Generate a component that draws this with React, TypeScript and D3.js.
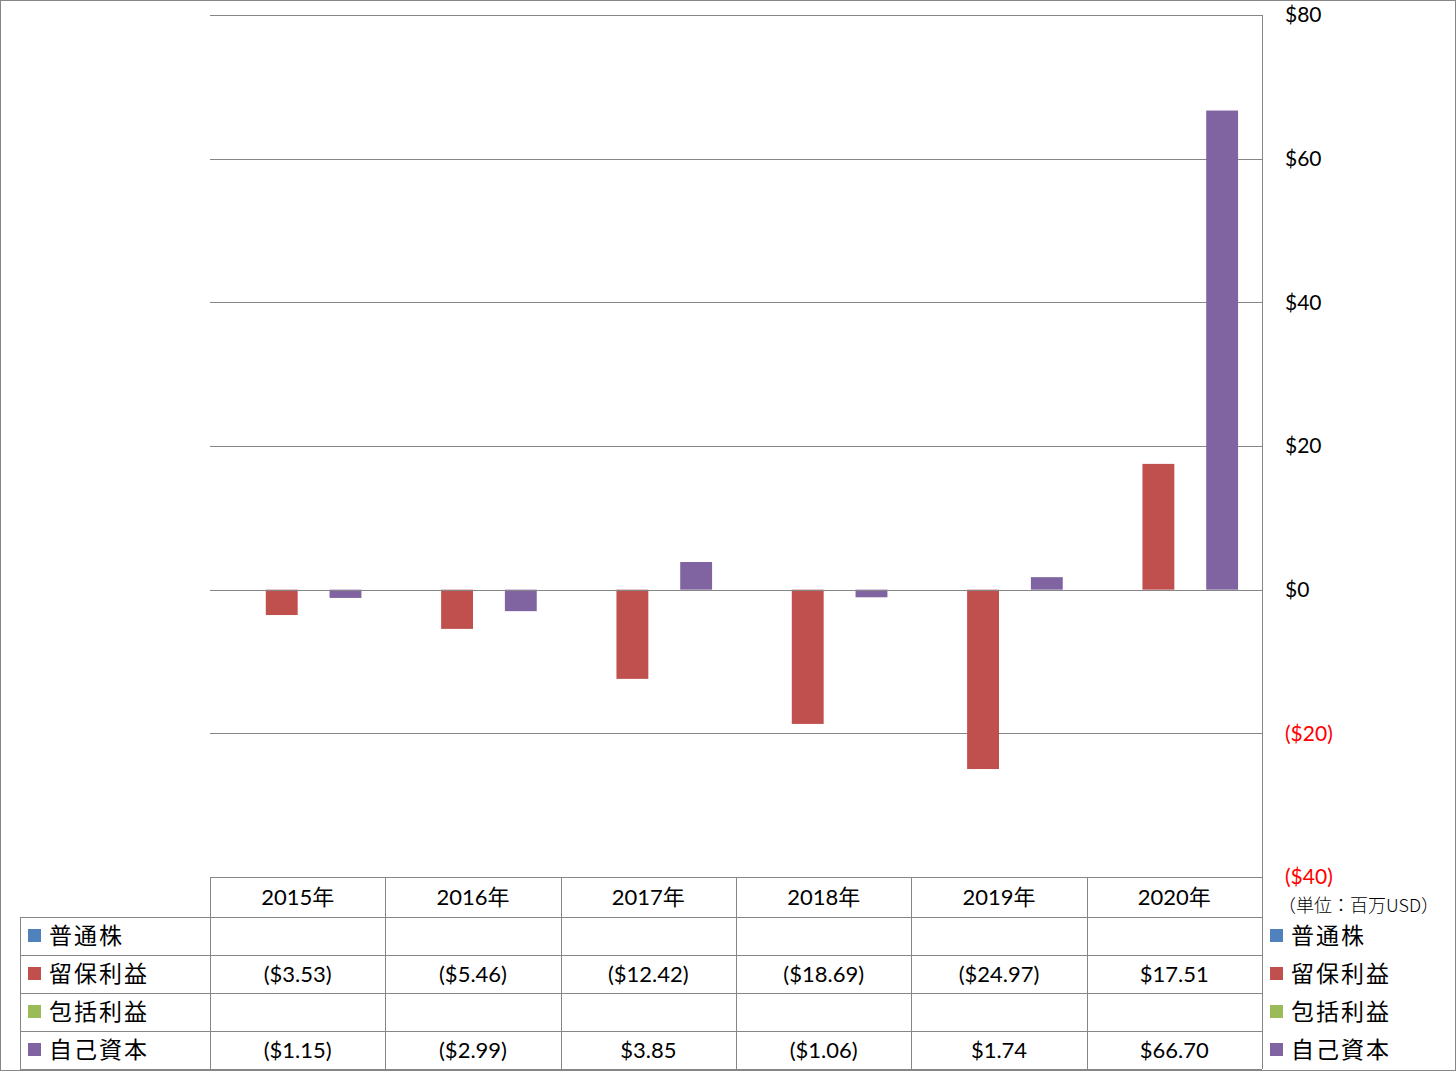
import React from "react";
import * as d3 from "d3";

const categories = ["2015年", "2016年", "2017年", "2018年", "2019年", "2020年"];
const seriesNames = ["普通株", "留保利益", "包括利益", "自己資本"];
const seriesColors = ["#4F81BD", "#C0504D", "#9BBB59", "#8064A2"];
const commonStock: (number | null)[] = [null, null, null, null, null, null];
const retainedEarnings: (number | null)[] = [-3.53, -5.46, -12.42, -18.69, -24.97, 17.51];
const comprehensiveIncome: (number | null)[] = [null, null, null, null, null, null];
const equity: (number | null)[] = [-1.15, -2.99, 3.85, -1.06, 1.74, 66.7];
const yTicks = [-40, -20, 0, 20, 40, 60, 80];
const unitLabel = "（単位：百万USD）";

const seriesValues = [commonStock, retainedEarnings, comprehensiveIncome, equity];

const W = 1456;
const H = 1071;
const plotLeft = 210;
const plotRight = 1262;
const plotTop = 15;
const plotBottom = 877;
const tableLeft = 20;
const rowH = 38;
const headerBottom = 917;
const gridColor = "#868686";
const numFont = "Lato, 'Noto Sans CJK JP', sans-serif";
const jpFont = "'Noto Sans CJK JP', sans-serif";

const fmt = (v: number) => {
  const s = "$" + Math.abs(v).toFixed(2);
  return v < 0 ? "(" + s + ")" : s;
};
const fmtTick = (v: number) => (v < 0 ? "($" + Math.abs(v) + ")" : "$" + v);

export default function App() {
  const y = d3.scaleLinear().domain([-40, 80]).range([plotBottom, plotTop]);
  const x0 = d3.scaleBand<string>().domain(categories).range([plotLeft, plotRight]).paddingInner(0).paddingOuter(0);
  const bw = x0.bandwidth();
  const gap = (bw / 5.5) * 0.75;
  const x1 = d3.scaleBand<string>().domain(seriesNames).range([gap, bw - gap]).padding(0);

  const rowTops = seriesNames.map((_, i) => headerBottom + i * rowH);
  const tableBottom = headerBottom + seriesNames.length * rowH;

  return (
    <div style={{ position: "absolute", left: 0, top: 0 }}>
      <svg width={W} height={H} style={{ display: "block", background: "#fff" }}>
        <rect x={0.5} y={0.5} width={W - 1} height={H - 1} fill="#fff" stroke={gridColor} strokeWidth={1} />
        {/* gridlines */}
        {yTicks.map((t) => (
          <line key={"g" + t} x1={plotLeft} x2={plotRight} y1={Math.round(y(t)) + 0.5} y2={Math.round(y(t)) + 0.5} stroke={gridColor} strokeWidth={1} />
        ))}
        {/* right plot edge extends through table */}
        <line x1={plotRight + 0.5} x2={plotRight + 0.5} y1={plotTop} y2={tableBottom} stroke={gridColor} />
        {/* bars */}
        {seriesValues.map((vals, si) =>
          vals.map((v, ci) =>
            v == null ? null : (
              <rect
                key={`b${si}-${ci}`}
                x={(x0(categories[ci]) as number) + (x1(seriesNames[si]) as number)}
                width={x1.bandwidth()}
                y={Math.min(y(v), y(0))}
                height={Math.abs(y(v) - y(0))}
                fill={seriesColors[si]}
              />
            )
          )
        )}
        {/* zero line on top */}
        <line x1={plotLeft} x2={plotRight} y1={Math.round(y(0)) + 0.5} y2={Math.round(y(0)) + 0.5} stroke={gridColor} strokeWidth={1} />
        {/* axis labels */}
        {yTicks.map((t) => (
          <text key={"t" + t} x={1285} y={y(t)} dy="0.35em" fontFamily={numFont} fontSize={21} fill={t < 0 ? "#FF0000" : "#000"}>
            {fmtTick(t)}
          </text>
        ))}
        <text x={1278} y={906} dy="0.35em" fontFamily={jpFont} fontSize={18} fontWeight={300} fill="#000">
          {unitLabel}
        </text>
        {/* table lines */}
        {categories.map((c, i) => (
          <line key={"v" + i} x1={Math.round(x0(c) as number) + 0.5} x2={Math.round(x0(c) as number) + 0.5} y1={plotBottom} y2={tableBottom} stroke={gridColor} />
        ))}
        <line x1={tableLeft + 0.5} x2={tableLeft + 0.5} y1={headerBottom} y2={tableBottom} stroke={gridColor} />
        {rowTops.map((ry, i) => (
          <line key={"h" + i} x1={tableLeft} x2={plotRight} y1={ry + 0.5} y2={ry + 0.5} stroke={gridColor} />
        ))}
        <line x1={tableLeft} x2={plotRight} y1={tableBottom + 0.5} y2={tableBottom + 0.5} stroke={gridColor} />
        {/* header */}
        {categories.map((c) => (
          <text key={"c" + c} x={(x0(c) as number) + bw / 2} y={(plotBottom + headerBottom) / 2} dy="0.35em" textAnchor="middle" fontFamily={numFont} fontSize={22} fill="#000">
            {c}
          </text>
        ))}
        {/* row legend labels + values */}
        {seriesNames.map((s, si) => {
          const cy = rowTops[si] + rowH / 2;
          return (
            <g key={"r" + s}>
              <rect x={28} y={cy - 7} width={13} height={13} fill={seriesColors[si]} />
              <text x={49} y={cy} dy="0.35em" fontFamily={jpFont} fontSize={23} letterSpacing={2} fill="#000">
                {s}
              </text>
              {seriesValues[si].map((v, ci) =>
                v == null ? null : (
                  <text key={"v" + ci} x={(x0(categories[ci]) as number) + bw / 2} y={cy} dy="0.35em" textAnchor="middle" fontFamily={numFont} fontSize={22} fill="#000">
                    {fmt(v)}
                  </text>
                )
              )}
              <rect x={1270} y={cy - 7} width={13} height={13} fill={seriesColors[si]} />
              <text x={1291} y={cy} dy="0.35em" fontFamily={jpFont} fontSize={23} letterSpacing={2} fill="#000">
                {s}
              </text>
            </g>
          );
        })}
      </svg>
    </div>
  );
}
